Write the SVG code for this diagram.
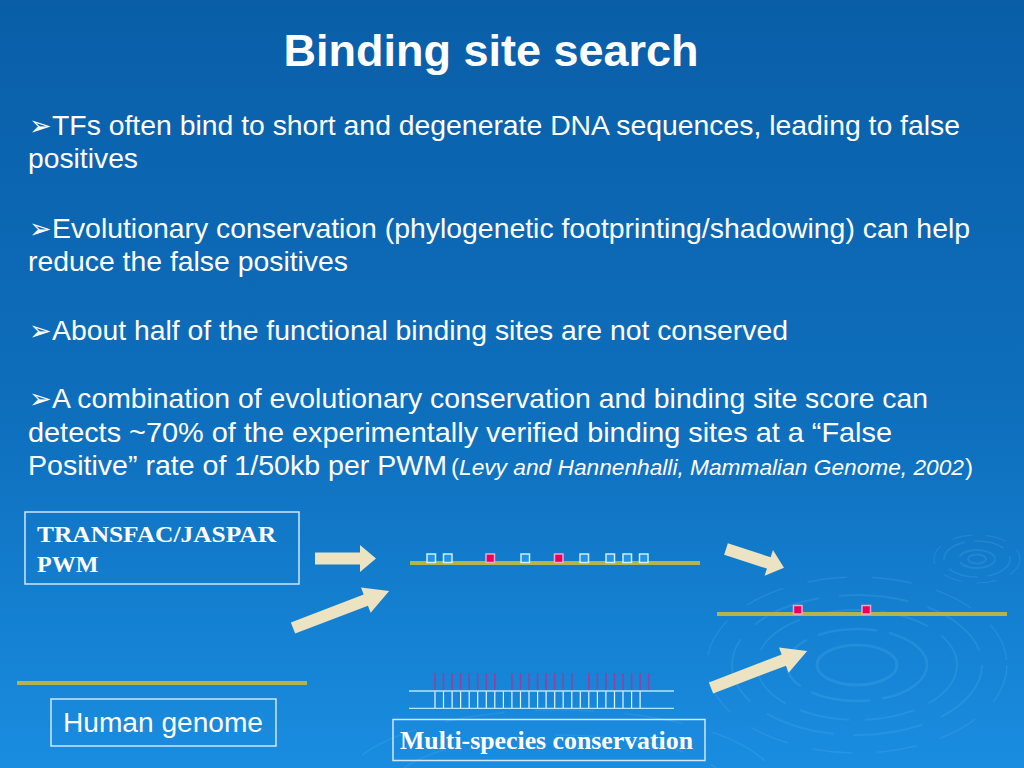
<svg xmlns="http://www.w3.org/2000/svg" width="1024" height="768" viewBox="0 0 1024 768">
<defs>
<linearGradient id="bg" x1="0" y1="0" x2="0" y2="1">
<stop offset="0" stop-color="#0a5ea8"/>
<stop offset="0.55" stop-color="#0e6fbd"/>
<stop offset="1" stop-color="#1a8de0"/>
</linearGradient>
<style>
.t{font-family:"Liberation Sans",Arial,sans-serif;fill:#ffffff;}
.bul{font-family:"DejaVu Sans",sans-serif;fill:#ffffff;font-size:27px;}
.body{font-size:28px;}
.ser{font-family:"Liberation Serif","Times New Roman",serif;font-weight:bold;fill:#ffffff;}
.box{fill:none;stroke:#cfe6fb;stroke-width:1.5;}
.dna{stroke:#b3b54a;stroke-width:4;}
.sb{fill:#2593e3;stroke:#cdeefa;stroke-width:1.5;}
.sp{fill:#e8005a;stroke:#f4a6c6;stroke-width:1.5;}
.arr{fill:#ebe3c1;}
.rip{fill:none;stroke:#5fb8f2;stroke-opacity:0.2;}
.hl{stroke:#b4e6f2;stroke-width:1.3;}
.wv{stroke:#e6f6ff;stroke-width:1.2;}
.pv{stroke:#9c3c9e;stroke-width:1.6;}
</style>
</defs>
<rect width="1024" height="768" fill="url(#bg)"/>
<g id="ripples">
<ellipse class="rip" cx="977" cy="559" rx="9" ry="4.5" stroke-width="2"/>
<ellipse class="rip" cx="977" cy="559" rx="18" ry="9" stroke-width="2" stroke-dasharray="40 6"/>
<ellipse class="rip" cx="977" cy="559" rx="33" ry="18" stroke-width="1.5" stroke-dasharray="30 10"/>
<ellipse class="rip" cx="977" cy="559" rx="43" ry="24" stroke-width="1.2" stroke-dasharray="20 14"/>
<ellipse class="rip" cx="857" cy="665" rx="40" ry="20" stroke-width="3"/>
<ellipse class="rip" cx="857" cy="665" rx="70" ry="36" stroke-width="2.5" stroke-dasharray="60 12"/>
<ellipse class="rip" cx="857" cy="665" rx="100" ry="55" stroke-width="2" stroke-dasharray="50 16"/>
<ellipse class="rip" cx="857" cy="665" rx="125" ry="70" stroke-width="2" stroke-dasharray="70 20"/>
<ellipse class="rip" cx="857" cy="665" rx="150" ry="88" stroke-width="1.5" stroke-dasharray="40 25"/>
<ellipse class="rip" cx="560" cy="790" rx="220" ry="80" stroke-width="1.5" stroke-dasharray="60 30" stroke-opacity="0.12"/>
<ellipse class="rip" cx="560" cy="790" rx="170" ry="55" stroke-width="1.5" stroke-dasharray="50 30" stroke-opacity="0.12"/>
</g>
<g id="title">
<text class="t" x="491" y="66" font-size="45" font-weight="bold" text-anchor="middle">Binding site search</text>
</g>
<g id="bullets">
<text class="bul" x="29" y="135">➢</text>
<text class="t body" x="52" y="135" textLength="908" lengthAdjust="spacingAndGlyphs">TFs often bind to short and degenerate DNA sequences, leading to false</text>
<text class="t body" x="28" y="168" textLength="110" lengthAdjust="spacingAndGlyphs">positives</text>
<text class="bul" x="29" y="238">➢</text>
<text class="t body" x="52" y="238" textLength="918" lengthAdjust="spacingAndGlyphs">Evolutionary conservation (phylogenetic footprinting/shadowing) can help</text>
<text class="t body" x="28" y="271" textLength="320" lengthAdjust="spacingAndGlyphs">reduce the false positives</text>
<text class="bul" x="29" y="340">➢</text>
<text class="t body" x="52" y="340" textLength="736" lengthAdjust="spacingAndGlyphs">About half of the functional binding sites are not conserved</text>
<text class="bul" x="29" y="408">➢</text>
<text class="t body" x="52" y="408" textLength="876" lengthAdjust="spacingAndGlyphs">A combination of evolutionary conservation and binding site score can</text>
<text class="t body" x="28" y="442" textLength="864" lengthAdjust="spacingAndGlyphs">detects ~70% of the experimentally verified binding sites at a “False</text>
<text class="t body" x="28" y="475" textLength="419" lengthAdjust="spacingAndGlyphs">Positive” rate of 1/50kb per PWM</text>
<text class="t" x="451" y="475" font-size="24">(</text>
<text class="t" x="459" y="475" font-size="22" font-style="italic" textLength="505" lengthAdjust="spacingAndGlyphs">Levy and Hannenhalli, Mammalian Genome, 2002</text>
<text class="t" x="965" y="475" font-size="24">)</text>
</g>
<g id="pwm-box">
<rect class="box" x="25" y="512" width="274" height="72"/>
<text class="ser" x="37" y="542" font-size="24" textLength="239" lengthAdjust="spacingAndGlyphs">TRANSFAC/JASPAR</text>
<text class="ser" x="37" y="572" font-size="24">PWM</text>
</g>
<g id="human-genome">
<line class="dna" x1="17" y1="683" x2="307" y2="683"/>
<rect class="box" x="51" y="699" width="225" height="47"/>
<text class="t" x="63" y="732" font-size="27" textLength="200" lengthAdjust="spacingAndGlyphs">Human genome</text>
</g>
<g id="predicted-sites">
<line class="dna" x1="410" y1="563" x2="700" y2="563"/>
<rect class="sb" x="427" y="554" width="8.5" height="8.5"/>
<rect class="sb" x="443.5" y="554" width="8.5" height="8.5"/>
<rect class="sp" x="486" y="554" width="8.5" height="8.5"/>
<rect class="sb" x="521" y="554" width="8.5" height="8.5"/>
<rect class="sp" x="554.5" y="554" width="8.5" height="8.5"/>
<rect class="sb" x="580" y="554" width="8.5" height="8.5"/>
<rect class="sb" x="606" y="554" width="8.5" height="8.5"/>
<rect class="sb" x="623" y="554" width="8.5" height="8.5"/>
<rect class="sb" x="639.5" y="554" width="8.5" height="8.5"/>
</g>
<g id="conserved-sites">
<line class="dna" x1="717" y1="614" x2="1007" y2="614"/>
<rect class="sp" x="793.5" y="605.5" width="8.5" height="8.5"/>
<rect class="sp" x="862" y="605.5" width="8.5" height="8.5"/>
</g>
<g id="multi-species">
<g class="pv">
<line x1="435" y1="673" x2="435" y2="690"/><line x1="443.5" y1="673" x2="443.5" y2="690"/><line x1="452.1" y1="673" x2="452.1" y2="690"/><line x1="460.6" y1="673" x2="460.6" y2="690"/><line x1="469.2" y1="673" x2="469.2" y2="690"/><line x1="477.7" y1="673" x2="477.7" y2="690"/><line x1="486.3" y1="673" x2="486.3" y2="690"/><line x1="494.8" y1="673" x2="494.8" y2="690"/>
<line x1="511.9" y1="673" x2="511.9" y2="690"/><line x1="520.5" y1="673" x2="520.5" y2="690"/><line x1="529" y1="673" x2="529" y2="690"/><line x1="537.6" y1="673" x2="537.6" y2="690"/><line x1="546.1" y1="673" x2="546.1" y2="690"/><line x1="554.7" y1="673" x2="554.7" y2="690"/><line x1="563.2" y1="673" x2="563.2" y2="690"/><line x1="571.8" y1="673" x2="571.8" y2="690"/>
<line x1="588.8" y1="673" x2="588.8" y2="690"/><line x1="597.4" y1="673" x2="597.4" y2="690"/><line x1="605.9" y1="673" x2="605.9" y2="690"/><line x1="614.5" y1="673" x2="614.5" y2="690"/><line x1="623" y1="673" x2="623" y2="690"/><line x1="631.6" y1="673" x2="631.6" y2="690"/><line x1="640.1" y1="673" x2="640.1" y2="690"/><line x1="648.7" y1="673" x2="648.7" y2="690"/>
</g>
<g class="wv">
<line x1="435" y1="691" x2="435" y2="708"/><line x1="443.5" y1="691" x2="443.5" y2="708"/><line x1="452.1" y1="691" x2="452.1" y2="708"/><line x1="460.6" y1="691" x2="460.6" y2="708"/><line x1="469.2" y1="691" x2="469.2" y2="708"/><line x1="477.7" y1="691" x2="477.7" y2="708"/><line x1="486.3" y1="691" x2="486.3" y2="708"/><line x1="494.8" y1="691" x2="494.8" y2="708"/><line x1="503.4" y1="691" x2="503.4" y2="708"/><line x1="511.9" y1="691" x2="511.9" y2="708"/><line x1="520.5" y1="691" x2="520.5" y2="708"/><line x1="529" y1="691" x2="529" y2="708"/><line x1="537.6" y1="691" x2="537.6" y2="708"/><line x1="546.1" y1="691" x2="546.1" y2="708"/><line x1="554.7" y1="691" x2="554.7" y2="708"/><line x1="563.2" y1="691" x2="563.2" y2="708"/><line x1="571.8" y1="691" x2="571.8" y2="708"/><line x1="580.3" y1="691" x2="580.3" y2="708"/><line x1="588.8" y1="691" x2="588.8" y2="708"/><line x1="597.4" y1="691" x2="597.4" y2="708"/><line x1="605.9" y1="691" x2="605.9" y2="708"/><line x1="614.5" y1="691" x2="614.5" y2="708"/><line x1="623" y1="691" x2="623" y2="708"/><line x1="631.6" y1="691" x2="631.6" y2="708"/><line x1="640.1" y1="691" x2="640.1" y2="708"/>
</g>
<line class="hl" x1="409" y1="691" x2="674" y2="691"/>
<line class="hl" x1="409" y1="708.3" x2="674" y2="708.3"/>
<rect class="box" x="393" y="719.5" width="312" height="41"/>
<text class="ser" x="400" y="749" font-size="25" textLength="293" lengthAdjust="spacingAndGlyphs">Multi-species conservation</text>
</g>
<g id="connectors">
<path class="arr" transform="translate(315,558.5)" d="M0,-6 H45 V-13.5 L61,0 L45,13.5 V6 H0 Z"/>
<path class="arr" transform="translate(293,628) rotate(-21)" d="M0,-6 H78 V-13.5 L103,0 L78,13.5 V6 H0 Z"/>
<path class="arr" transform="translate(726,549) rotate(18)" d="M0,-6 H45 V-13.5 L61,0 L45,13.5 V6 H0 Z"/>
<path class="arr" transform="translate(711,688) rotate(-21)" d="M0,-6 H78 V-13.5 L103,0 L78,13.5 V6 H0 Z"/>
</g>
</svg>
